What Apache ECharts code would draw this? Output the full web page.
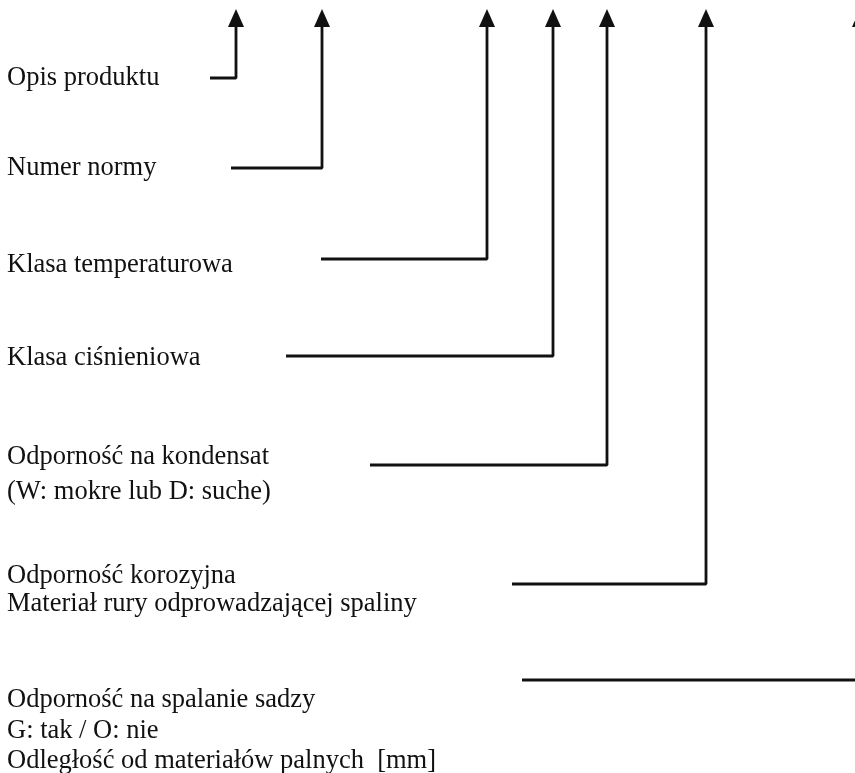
<!DOCTYPE html>
<html>
<head>
<meta charset="utf-8">
<script src="https://cdn.jsdelivr.net/npm/echarts@6/dist/echarts.min.js"></script>
<style>
  html, body { margin: 0; padding: 0; background: #fff; }
  #main { width: 855px; height: 773px; }
</style>
</head>
<body>
<div id="main"></div>
<script>
// label lines (text + row centre)
var textLines = [
  'Opis produktu',
  'Numer normy',
  'Klasa temperaturowa',
  'Klasa ciśnieniowa',
  'Odporność na kondensat',
  '(W: mokre lub D: suche)',
  'Odporność korozyjna',
  'Materiał rury odprowadzającej spaliny',
  'Odporność na spalanie sadzy',
  'G: tak / O: nie',
  'Odległość od materiałów palnych  [mm]'
];
var textY = [78, 168, 265, 358, 457, 492, 576, 604, 700, 731, 761];

// connectors: start of horizontal leader, its row, and the arrow column
var leaderStartX = [210, 231, 321, 286, 370, 512, 522];
var leaderY      = [78, 168, 259, 356, 465, 584, 680];
var arrowX       = [236, 322, 487, 553, 607, 706, 860];
var arrowBaseY = 27;
var arrowMidY = 18;

var chart = echarts.init(document.getElementById('main'));

var series = [];
for (var i = 0; i < arrowX.length; i++) {
  series.push({
    type: 'line',
    silent: true,
    symbol: 'none',
    clip: false,
    lineStyle: { color: '#111', width: 2.8 },
    data: [
      [leaderStartX[i], leaderY[i]],
      [arrowX[i], leaderY[i]],
      [arrowX[i], arrowBaseY]
    ]
  });
}

// arrow heads
series.push({
  type: 'scatter',
  silent: true,
  clip: false,
  symbol: 'triangle',
  symbolSize: [16, 18],
  itemStyle: { color: '#111', opacity: 1 },
  data: arrowX.map(function (x) { return [x, arrowMidY]; })
});

// text
series.push({
  type: 'scatter',
  silent: true,
  symbolSize: 0,
  itemStyle: { opacity: 1 },
  data: textLines.map(function (t, i) { return { name: t, value: [7, textY[i]] }; }),
  label: {
    show: true,
    position: [0, 0],
    align: 'left',
    verticalAlign: 'middle',
    formatter: '{b}',
    color: '#111',
    fontFamily: 'Liberation Serif',
    fontSize: 26.5
  }
});

chart.setOption({
  backgroundColor: '#ffffff',
  animation: false,
  grid: { left: 0, right: 0, top: 0, bottom: 0 },
  xAxis: { type: 'value', min: 0, max: 855, show: false },
  yAxis: { type: 'value', min: 0, max: 773, inverse: true, show: false },
  series: series
});
</script>
</body>
</html>
